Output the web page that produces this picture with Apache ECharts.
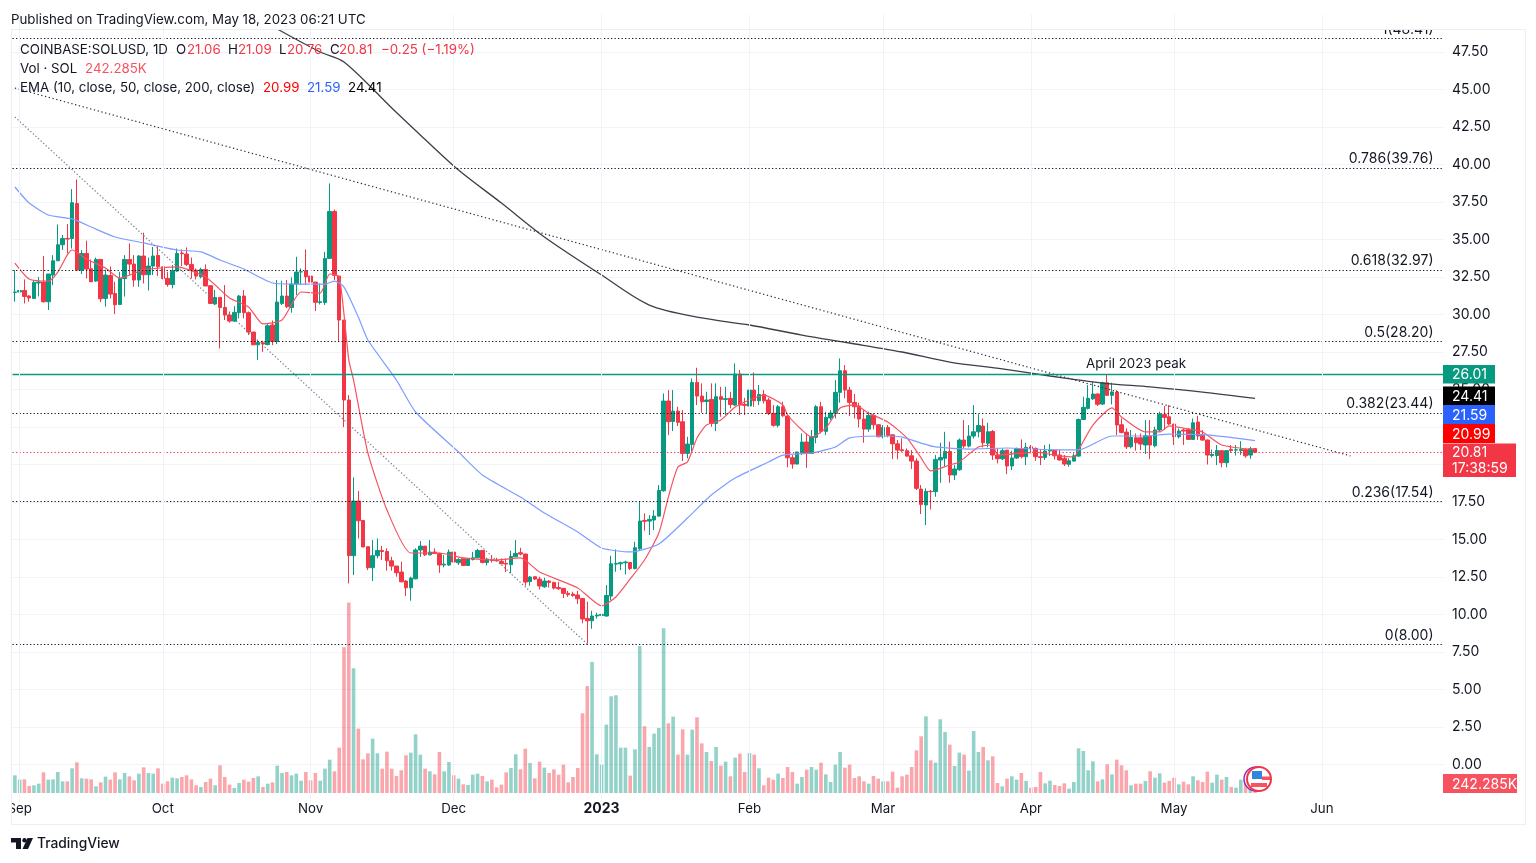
<!DOCTYPE html>
<html>
<head>
<meta charset="utf-8">
<title>SOLUSD</title>
<style>
html, body { margin: 0; padding: 0; background: #fff; }
#chart { width: 1536px; height: 863px; }
</style>
<script src="https://cdn.jsdelivr.net/npm/echarts@6/dist/echarts.min.js"></script>
</head>
<body>
<div id="chart"></div>
<script>
// daily candles, one row per day from 2022-08-31: open, close, low, high
var candles = [
    [31.47,31.5,30.85,32.96],[31.5,31.6,30.36,31.7],[31.6,31.2,30.74,32.34],[31.23,31.1,30.85,31.3],[31.07,32.14,31.07,32.3],
    [32.1,32.17,31.2,32.5],[32.16,30.85,30.8,33.9],[30.85,32.7,30.3,32.7],[32.63,33.58,31.96,33.96],[33.58,34.65,33.58,36.0],
    [34.65,35.07,34.3,35.3],[35.07,35.03,34.07,36.03],[35.07,37.45,34.4,38.36],[37.4,32.96,32.9,39.0],[32.96,34.07,32.7,34.3],
    [34.07,33.03,32.4,34.92],[33.05,32.18,32.18,33.67],[32.23,33.67,32.18,33.8],[33.67,31.05,30.83,33.67],[31.07,32.63,30.52,33.0],
    [32.6,31.36,31.07,33.2],[31.4,30.65,30.03,32.18],[30.67,32.4,30.63,32.85],[32.4,33.67,31.2,33.96],[33.67,33.36,32.63,34.74],
    [33.36,32.3,31.85,33.96],[32.3,33.9,31.85,33.96],[33.9,32.65,32.07,35.45],[32.65,33.23,31.6,33.8],[33.23,33.9,32.63,34.5],
    [33.94,33.18,32.56,34.56],
    // Oct
    [33.18,32.4,32.34,33.18],[32.4,32.0,31.85,32.85],[32.0,32.9,31.74,33.3],[32.9,34.07,32.83,34.4],[34.1,34.05,33.23,34.34],
    [34.03,33.34,33.23,34.47],[33.34,32.96,32.4,33.8],[32.96,32.56,32.34,33.07],[32.52,33.0,32.41,33.12],[33.0,31.9,31.9,33.34],
    [31.92,30.74,30.7,31.92],[30.7,31.14,30.63,31.63],[31.14,30.47,27.74,31.14],[30.47,29.96,29.63,31.96],[29.96,29.56,29.45,30.2],
    [29.56,30.14,29.5,30.56],[30.12,31.23,29.74,31.3],[31.23,30.12,29.74,31.63],[30.12,28.83,28.63,30.2],[28.83,27.98,27.98,28.83],
    [27.98,28.14,26.96,28.3],[28.12,28.03,27.5,28.25],[28.0,29.25,27.94,29.36],[29.3,28.2,27.96,29.6],[28.2,30.83,28.03,32.3],
    [30.74,31.23,30.63,32.25],[31.23,30.52,30.43,32.3],[30.47,32.03,30.12,32.47],[32.03,32.83,31.3,33.85],[32.84,32.85,31.96,33.07],
    // Nov
    [32.9,32.52,31.96,34.34],[32.56,32.16,32.12,33.3],[32.16,30.81,30.23,32.16],[30.8,30.85,30.67,32.07],[30.8,33.74,30.63,34.18],
    [33.74,36.87,33.74,38.74],[36.87,32.61,32.3,37.0],[32.56,29.63,28.18,32.56],[29.63,24.3,22.5,29.63],[24.3,13.92,12.07,24.63],
    [13.92,17.56,12.63,19.14],[17.56,16.25,15.07,18.23],[16.27,14.5,14.5,16.27],[14.52,13.12,12.96,14.52],[13.12,13.92,12.23,14.96],
    [13.92,14.27,13.74,15.07],[14.27,14.2,13.63,14.58],[14.2,13.58,12.92,14.41],[13.58,13.23,12.92,13.85],[13.23,12.78,12.52,13.23],
    [12.83,12.18,12.14,13.52],[12.23,11.78,11.23,12.3],[11.78,12.43,10.92,12.52],[12.38,14.3,12.34,14.41],[14.3,14.56,13.85,14.9],
    [14.56,13.98,13.9,14.56],[13.98,14.16,13.94,14.96],[14.16,14.07,14.03,14.41],[14.07,13.3,12.78,14.12],[13.3,13.36,13.14,13.96],
    // Dec
    [13.3,14.16,13.23,14.34],[14.16,13.5,13.41,14.16],[13.45,13.67,13.3,13.76],[13.72,13.27,13.23,13.72],[13.27,13.7,13.23,13.74],
    [13.67,13.78,13.6,14.18],[13.78,14.27,13.74,14.38],[14.27,13.47,13.41,14.27],[13.47,13.7,13.27,13.78],[13.65,13.6,13.47,13.96],
    [13.63,13.58,13.52,13.78],[13.54,13.38,13.36,13.74],[13.41,13.36,12.83,13.74],[13.32,13.87,12.74,14.25],[13.85,14.07,13.85,14.96],
    [14.12,14.03,13.94,14.45],[14.03,12.16,11.92,14.07],[12.2,12.5,11.92,12.56],[12.52,12.36,12.3,12.52],[12.36,11.9,11.67,12.52],
    [11.85,12.23,11.78,12.45],[12.23,12.14,11.8,12.3],[12.14,11.76,11.67,12.18],[11.8,11.72,11.63,12.18],[11.74,11.41,11.1,11.74],
    [11.41,11.32,11.18,11.58],[11.36,11.27,11.18,11.52],[11.3,11.05,10.7,11.58],[11.07,9.7,9.41,11.07],[9.74,9.58,8.07,10.85],
    [9.58,9.9,9.05,10.25],
    // 2023
    [9.9,9.96,9.72,10.12],[9.94,10.01,9.8,10.07],[9.9,11.27,9.85,11.96],[11.23,13.38,10.96,13.92],[13.36,13.41,12.85,14.34],
    [13.38,13.45,12.96,13.52],[13.45,13.5,12.67,13.58],[13.47,13.07,12.96,13.49],[13.07,14.45,13.0,14.85],[14.38,16.23,14.3,17.52],
    [16.27,16.21,15.59,16.74],[16.23,16.34,15.3,16.63],[16.3,16.56,15.63,16.96],[16.56,18.27,16.52,18.63],[18.25,24.23,18.18,24.74],
    [24.23,22.85,21.96,24.96],[22.87,23.56,22.23,24.96],[23.56,22.81,22.56,23.85],[22.85,20.74,20.23,23.63],[20.74,21.36,20.41,21.85],
    [21.34,25.47,20.85,25.74],[25.47,24.56,23.96,26.45],[24.56,24.18,23.45,25.41],[24.2,24.3,23.41,24.85],[24.34,22.74,22.52,25.41],
    [22.74,24.52,22.23,25.41],[24.52,24.34,23.18,25.18],[24.34,24.39,23.3,25.18],[24.41,24.0,23.74,24.85],[23.96,26.03,23.92,26.74],
    [26.03,23.96,23.3,26.3],
    // Feb
    [24.01,23.94,23.3,24.45],[23.9,24.96,22.47,25.07],[24.96,24.25,23.85,26.14],[24.25,24.67,23.96,25.3],[24.67,24.25,24.07,24.96],
    [24.3,23.41,23.3,24.45],[23.41,22.61,22.52,23.96],[22.61,23.85,22.47,23.96],[23.85,23.25,23.18,24.18],[23.23,20.45,19.81,23.3],
    [20.45,20.03,19.72,20.63],[20.03,20.83,20.03,20.85],[20.78,21.5,20.63,22.07],[21.5,20.74,19.78,22.07],[20.74,21.85,20.7,22.3],
    [21.81,23.85,21.41,23.96],[23.85,22.21,22.07,24.18],[22.21,23.14,21.96,23.52],[23.1,23.43,22.96,23.63],[23.41,24.81,23.07,25.63],
    [24.81,26.25,24.12,27.07],[26.25,24.96,24.41,26.63],[24.96,24.14,23.23,25.18],[24.14,23.85,23.07,24.7],[23.9,23.03,22.47,24.12],
    [23.03,22.36,21.45,23.63],[22.36,23.27,22.18,23.52],[23.27,22.65,22.34,23.41],
    // Mar
    [22.65,21.85,21.81,22.65],[21.85,22.47,21.74,22.63],[22.47,21.94,21.81,22.63],[21.98,21.38,20.36,21.98],[21.38,20.96,20.34,21.63],
    [20.98,20.92,20.85,21.74],[20.92,20.56,20.52,21.07],[20.58,20.23,19.7,20.96],[20.23,18.41,18.3,20.41],[18.36,17.34,16.7,18.63],
    [17.3,18.21,15.96,18.41],[18.21,18.19,17.0,18.3],[18.19,20.34,17.85,20.63],[20.3,20.47,18.78,21.45],[20.41,20.87,19.9,22.18],
    [20.87,19.3,18.78,21.52],[19.3,19.7,18.96,19.96],[19.65,21.63,19.58,21.74],[21.63,21.23,21.07,22.96],[21.23,21.9,21.14,22.63],
    [21.9,22.18,21.74,23.96],[22.18,22.6,21.81,23.36],[22.56,21.45,21.14,23.07],[21.41,22.18,21.14,22.78],[22.2,20.63,20.3,22.3],
    [20.63,20.38,20.07,21.07],[20.38,20.92,20.3,21.07],[20.96,19.9,19.36,20.96],[19.9,20.43,19.63,20.92],[20.43,21.07,20.38,21.12],
    [21.07,20.52,20.41,21.67],
    // Apr
    [20.52,21.14,19.96,21.45],[21.18,21.07,20.74,21.3],[21.07,20.52,20.25,21.14],[20.52,20.47,19.96,21.0],[20.47,20.9,20.3,21.3],
    [20.9,20.96,20.56,21.36],[20.96,20.58,20.34,20.96],[20.63,20.3,20.25,21.0],[20.41,20.03,19.9,20.63],[20.01,20.25,19.85,20.41],
    [20.23,20.58,20.18,20.74],[20.56,23.0,20.52,23.07],[23.0,23.81,22.96,24.52],[23.74,24.41,23.67,25.3],[24.38,24.7,24.3,25.52],
    [24.7,24.01,23.9,24.74],[24.03,25.45,23.96,25.52],[25.45,24.61,24.56,26.01],[24.61,24.83,24.01,25.45],[24.83,22.63,21.96,24.96],
    [22.65,22.14,22.07,23.07],[22.16,21.18,21.03,22.41],[21.18,21.8,21.07,22.3],[21.78,21.45,20.92,22.07],[21.78,21.36,20.96,22.07],
    [21.3,21.92,20.7,22.96],[21.9,21.3,20.36,22.96],[21.25,22.3,21.14,22.52],[22.3,23.34,22.18,23.52],[23.34,23.14,22.3,23.9],
    // May
    [23.18,22.7,22.63,23.96],[22.7,21.85,21.3,22.7],[21.85,22.23,21.74,22.41],[22.3,22.23,21.3,22.41],[22.34,21.67,21.63,22.41],
    [21.67,22.78,21.63,23.07],[22.83,21.9,21.63,23.25],[21.94,21.63,21.58,22.3],[21.63,20.63,20.0,21.67],[20.6,20.67,20.47,21.0],
    [20.6,20.94,19.96,21.3],[20.92,20.12,19.81,20.96],[20.12,20.92,19.81,20.96],[21.01,20.94,20.78,21.3],[20.96,20.98,20.6,21.3],
    [20.92,21.0,20.63,21.56],[20.99,20.58,20.45,21.07],[20.63,21.05,20.38,21.18],[21.06,20.81,20.76,21.09]
];

// volume per day in thousands of SOL, same rows as candles
var volumes = [
    428,323,331,169,186,226,500,323,331,508,282,282,597,742,355,347,331,161,258,395,
    323,500,331,484,403,307,468,621,484,468,597,226,282,371,355,387,428,331,186,145,
    266,347,186,670,387,202,121,242,323,274,363,403,145,226,258,662,484,508,428,468,
    299,508,307,484,299,589,807,525,1098,3527,4608,3018,1558,815,960,1315,960,589,1001,589,
    412,549,912,976,1420,928,589,525,452,993,525,751,428,347,210,194,444,468,412,282,
    323,137,202,500,605,936,573,1073,726,355,759,613,484,573,444,686,258,387,605,1929,
    2590,3172,936,686,1654,2340,2365,1098,1098,420,1057,3559,1614,1114,1436,1574,3987,1687,1848,928,
    1541,928,1533,1832,1202,993,775,1114,662,759,404,855,952,508,968,928,597,186,371,323,
    468,363,629,508,226,387,565,629,565,734,452,266,686,993,613,686,363,404,282,226,
    412,347,282,282,516,129,404,444,629,1033,1372,1856,791,734,1783,1477,1170,654,976,928,
    541,1501,993,1114,791,888,242,161,347,404,323,484,291,129,145,508,234,299,194,169,
    234,105,266,1081,1017,549,767,282,331,694,452,807,670,549,186,226,226,291,525,371,
    476,250,291,371,210,274,210,404,307,266,516,250,444,323,387,145,129,323,226,100,242.285
];

// [day index, price] points read along each moving average
var ema10 = [
    [0,33.43],[3,32.37],[7,32.23],[9,32.83],[11,33.97],[12,34.3],[15,33.7],[19,33.1],[22,32.43],[27,32.97],
    [34,33.17],[40,32.5],[45,31.1],[49,30.5],[52,29.37],[56,29.63],[60,31.5],[64,31.43],[66,32.7],[68,32.5],
    [70,26.97],[71,25.63],[74,20.77],[78,16.97],[83,14.1],[89,14.1],[94,13.77],[101,13.63],[106,13.77],[110,12.83],
    [118,11.77],[123,10.57],[126,11.17],[129,12.37],[132,13.63],[135,15.43],[137,17.83],[139,19.83],[141,20.17],[143,21.77],
    [145,22.63],[148,22.97],[151,23.83],[154,24.3],[157,24.63],[161,23.97],[162,23.3],[165,22.3],[167,21.83],[170,22.43],
    [173,23.77],[176,23.97],[179,23.43],[183,22.83],[187,21.77],[190,20.43],[192,19.57],[196,19.97],[198,20.17],[202,21.17],
    [205,21.3],[206,20.63],[214,20.83],[219,20.57],[222,20.5],[223,20.97],[226,22.63],[230,23.77],[232,23.17],[237,22.17],
    [240,22.17],[242,22.57],[246,22.37],[249,22.17],[253,21.3],[260,20.99]
];
var ema50 = [
    [0,38.5],[3,37.43],[7,36.63],[12,36.37],[16,35.83],[21,35.17],[27,34.77],[34,34.3],[39,34.17],[43,33.63],
    [48,33.03],[54,32.1],[60,32.03],[65,32.03],[67,32.23],[69,31.83],[72,29.83],[74,28.3],[80,25.63],[84,23.5],
    [93,20.83],[98,19.3],[106,17.83],[111,16.77],[118,15.5],[123,14.43],[129,14.17],[135,14.7],[141,16.43],[146,17.97],
    [151,19.1],[158,20.17],[161,20.63],[167,20.77],[172,21.17],[175,21.77],[182,21.9],[186,21.83],[190,21.43],[193,21.17],
    [200,21.03],[208,21.1],[219,20.97],[223,20.97],[230,21.9],[237,21.9],[242,22.03],[250,21.97],[260,21.59]
];
var ema200 = [
    [55,49.03],[64,47.5],[69,46.83],[79,43.77],[85,41.97],[93,39.63],[102,37.43],[111,35.17],[123,32.63],[133,30.63],
    [144,29.77],[154,29.3],[165,28.63],[175,28.1],[186,27.5],[196,26.83],[207,26.37],[217,25.9],[228,25.43],[238,25.17],
    [249,24.83],[260,24.41]
];

var longTrend = [[0,45.1],[280,20.57]];
var steepTrend = [[0,43.17],[120,8.03]];

var fibLevels = [
    ['1(48.41)',48.41],['0.786(39.76)',39.76],['0.618(32.97)',32.97],['0.5(28.20)',28.20],
    ['0.382(23.44)',23.44],['0.236(17.54)',17.54],['0(8.00)',8.00]
];
var supportLevel = 26.01;
var lastPrice = 20.81;

// month labels by day index
var monthTicks = {1:'Sep',31:'Oct',62:'Nov',92:'Dec',123:'2023',154:'Feb',182:'Mar',213:'Apr',243:'May',274:'Jun'};
var dayCount = 300;

var GREEN = '#089981', RED = '#f23645', INK = '#131722', FONT = 'Inter, "Noto Sans", sans-serif';

var categories = [];
for (var i = 0; i < dayCount; i++) {
    categories.push(monthTicks[i] || '');
}

var volumeData = volumes.map(function (v, i) {
    var up = candles[i][1] >= candles[i][0];
    return {value: v, itemStyle: {color: up ? 'rgba(8,153,129,0.44)' : 'rgba(242,54,69,0.44)'}};
});

function txt(x, y, text, color, extra) {
    var style = {x: x, y: y + 1, text: text, fill: color || INK, font: '13.3px ' + FONT, textVerticalAlign: 'middle'};
    if (extra) {
        for (var k in extra) style[k] = extra[k];
    }
    return {type: 'text', z: 40, silent: true, style: style};
}

function box(x, y, w, h, color, z) {
    return {type: 'rect', z: z || 35, silent: true, shape: {x: x, y: y, width: w, height: h}, style: {fill: color}};
}

var scaleFont = {font: '14px ' + FONT};

function tag(y, h, w, color, label) {
    return [box(1443, y, w, h, color, 35), txt(1452, y + h / 2, label, '#fff', scaleFont)];
}

var graphics = [
    // page furniture around the plot
    box(11, 0, 1515, 29, '#fff', 12),
    box(11, 793, 1431, 10, '#fff', 12),
    box(0, 794, 11, 29, '#fff', 30),
    box(11, 29, 1515, 1, '#eceef2', 31),
    box(11, 824, 1515, 1, '#eceef2', 31),
    box(11, 29, 1, 795, '#eceef2', 31),
    box(1525, 29, 1, 795, '#eceef2', 31),

    txt(11, 19, 'Published on TradingView.com, May 18, 2023 06:21 UTC'),
    txt(20, 49, 'COINBASE:SOLUSD, 1D'), txt(176, 49, 'O'), txt(187, 49, '21.06', RED),
    txt(228, 49, 'H'), txt(238, 49, '21.09', RED), txt(279, 49, 'L'), txt(287, 49, '20.76', RED),
    txt(330, 49, 'C'), txt(339, 49, '20.81', RED), txt(381, 49, '\u22120.25 (\u22121.19%)', RED),
    txt(20, 68, 'Vol \u00b7 SOL'), txt(85, 68, '242.285K', '#f7525f'),
    txt(20, 87, 'EMA (10, close, 50, close, 200, close)'), txt(263, 87, '20.99', '#ff0000'),
    txt(307, 87, '21.59', '#2962ff'), txt(348, 87, '24.41', '#000'),
    txt(1086, 363, 'April 2023 peak'),

    // TradingView mark
    box(11, 838, 10, 4.5, '#131722', 40), box(16, 838, 5, 11, '#131722', 40),
    {type: 'circle', z: 40, silent: true, shape: {cx: 24.5, cy: 840.2, r: 2.2}, style: {fill: '#131722'}},
    {type: 'polygon', z: 40, silent: true, shape: {points: [[27.5, 838], [33, 838], [28, 849], [22.5, 849]]}, style: {fill: '#131722'}},
    txt(37, 843, 'TradingView', INK, {font: '500 13.8px ' + FONT}),

    // flag badge at the last bar
    {type: 'circle', z: 36, silent: true, shape: {cx: 1256, cy: 779, r: 12}, style: {fill: '#fff', stroke: '#9c27b0', lineWidth: 1.5}},
    {type: 'circle', z: 37, silent: true, shape: {cx: 1259, cy: 779, r: 12}, style: {fill: '#fff', stroke: RED, lineWidth: 2}},
    box(1252, 771, 10, 8, '#2e86de', 38), box(1262, 776.5, 8, 3.5, '#f7525f', 38), box(1251, 783, 16, 4, '#f7525f', 38)
];
graphics = graphics
    .concat(tag(365, 18.5, 52, GREEN, '26.01'))
    .concat(tag(386.5, 18.5, 52, '#000', '24.41'))
    .concat(tag(405, 19, 52, '#2962ff', '21.59'))
    .concat(tag(424, 19, 52, '#ff0000', '20.99'))
    .concat([box(1443, 443.5, 73, 33.5, RED, 35), txt(1452, 452, '20.81', '#fff', scaleFont), txt(1452, 468, '17:38:59', '#fff', scaleFont)])
    .concat(tag(774, 19, 74, '#f7525f', '242.285K'));

var fibDots = {color: INK, type: [1.3, 2.2], width: 1.2};
var fibLines = fibLevels.map(function (f) {
    return {
        yAxis: f[1],
        lineStyle: fibDots,
        label: {show: true, position: 'insideEndTop', formatter: f[0], color: INK, fontSize: 14, fontFamily: FONT, distance: [10, 2]}
    };
});

var option = {
    animation: false,
    backgroundColor: '#fff',
    textStyle: {fontFamily: FONT},
    // price scale spans -2.5..50 at 15px per dollar, the ends sit behind the white bands
    grid: {left: 12.5, right: 92.5, top: 14.5, height: 787.5, containLabel: false},
    xAxis: {
        type: 'category',
        data: categories,
        boundaryGap: true,
        z: 20,
        axisLine: {show: false},
        axisTick: {show: false},
        axisLabel: {
            interval: function (idx, val) { return val !== ''; },
            margin: 0,
            hideOverlap: false,
            fontSize: 13.3,
            color: INK,
            formatter: function (val) { return val === '2023' ? '{b|2023}' : val; },
            rich: {b: {fontWeight: 'bold', fontSize: 14, color: INK}}
        },
        splitLine: {
            show: true,
            alignWithLabel: true,
            interval: function (idx, val) { return val !== ''; },
            lineStyle: {color: '#f0f3fa', width: 1}
        }
    },
    yAxis: [
        {
            type: 'value',
            position: 'right',
            min: -2.5,
            max: 50,
            interval: 2.5,
            axisLine: {show: false},
            axisTick: {show: false},
            axisLabel: {
                showMinLabel: false,
                showMaxLabel: false,
                margin: 8.5,
                fontSize: 14,
                padding: [4, 0, 0, 0],
                color: INK,
                formatter: function (v) { return v.toFixed(2); }
            },
            splitLine: {lineStyle: {color: '#f0f3fa', width: 1}}
        },
        {
            // volume in thousands, 24.2K per pixel with zero at the foot of the plot
            type: 'value',
            show: false,
            min: -218,
            max: 18840,
            splitLine: {show: false}
        }
    ],
    series: [
        {
            name: 'Vol',
            type: 'bar',
            yAxisIndex: 1,
            barWidth: 3.6,
            z: 1,
            data: volumeData
        },
        {
            name: 'SOLUSD',
            type: 'candlestick',
            barWidth: 4,
            z: 3,
            itemStyle: {color: GREEN, color0: RED, borderColor: GREEN, borderColor0: RED, borderWidth: 1},
            data: candles,
            markLine: {
                silent: true,
                symbol: 'none',
                animation: false,
                label: {show: false},
                data: fibLines.concat([
                    {yAxis: supportLevel, lineStyle: {color: GREEN, type: 'solid', width: 1.3}, label: {show: false}},
                    {yAxis: lastPrice, lineStyle: {color: RED, type: [1.3, 2.2], width: 1}, label: {show: false}}
                ])
            }
        },
        {name: 'EMA10', type: 'line', data: ema10, showSymbol: false, smooth: 0.2, z: 4, lineStyle: {color: '#f7525f', width: 1.2}},
        {name: 'EMA50', type: 'line', data: ema50, showSymbol: false, smooth: 0.2, z: 4, lineStyle: {color: '#7d9dff', width: 1.2}},
        {name: 'EMA200', type: 'line', data: ema200, showSymbol: false, smooth: 0.3, z: 4, lineStyle: {color: '#3c3f47', width: 1.3}},
        {name: 'Trend', type: 'line', data: longTrend, showSymbol: false, z: 4, lineStyle: {color: '#2a2e39', type: [1.3, 2.6], width: 1.2}},
        {name: 'Steep', type: 'line', data: steepTrend, showSymbol: false, z: 4, lineStyle: {color: '#787b86', type: [1.3, 2.2], width: 1.2}}
    ],
    graphic: {elements: graphics}
};

var chart = echarts.init(document.getElementById('chart'));
chart.setOption(option);
</script>
</body>
</html>
